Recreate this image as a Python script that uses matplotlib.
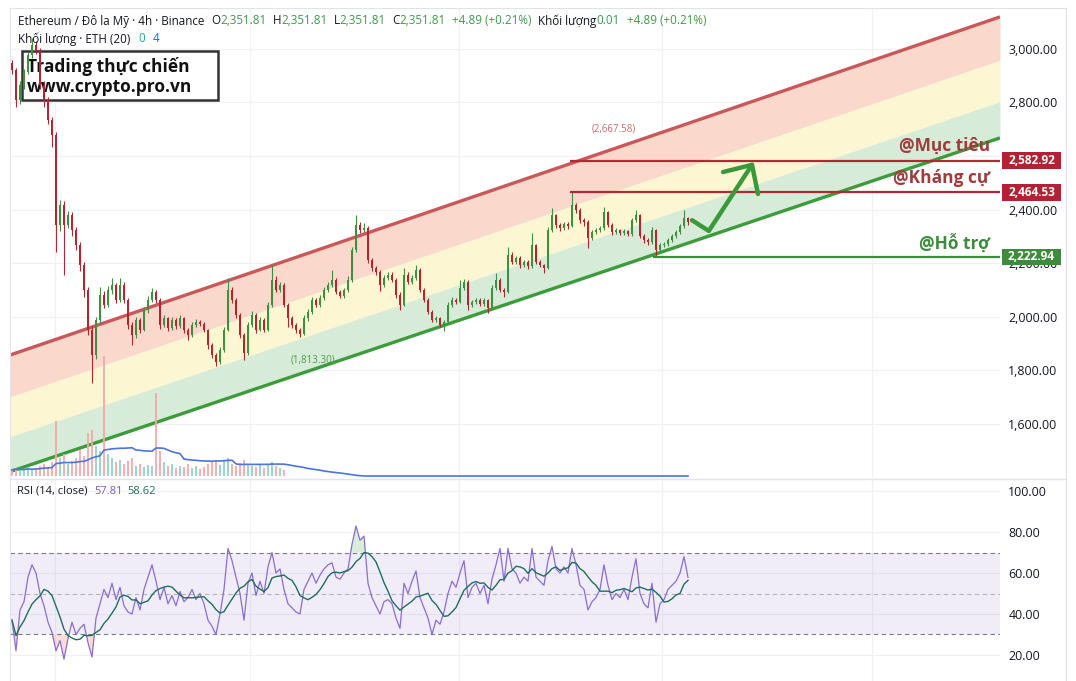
import matplotlib
matplotlib.use('Agg')
import matplotlib.pyplot as plt
import matplotlib.transforms as mtransforms
from matplotlib.patches import Rectangle
import numpy as np
import pandas as pd

plt.rcParams['font.family'] = ['Open Sans', 'DejaVu Sans']

# ---- data (ETH/USD 4h) ----
first_open = 2948
closes = [
    2921, 2809, 2865, 2914, 2978, 3015, 2996, 2865, 2809, 2735,
    2678, 2342, 2417, 2342, 2379, 2323, 2267, 2193, 2099, 1950,
    1857, 1987, 2081, 2043, 2099, 2118, 2062, 2118, 2062, 1968,
    1931, 1987, 1950, 2024, 2062, 2092, 2062, 1968, 1994, 1957,
    1987, 1965, 1994, 1950, 1931, 1968, 1980, 1972, 1950, 1893,
    1857, 1830, 1875, 1950, 2099, 2062, 2006, 1931, 1864, 1968,
    2006, 1950, 1987, 1950, 2043, 2137, 2099, 2118, 2043, 1994,
    1968, 1950, 1935, 1994, 2017, 2062, 2043, 2069, 2099, 2118,
    2137, 2092, 2077, 2099, 2137, 2249, 2342, 2323, 2331, 2211,
    2181, 2166, 2118, 2144, 2155, 2137, 2081, 2043, 2155, 2129,
    2144, 2174, 2099, 2062, 2017, 1987, 1994, 1968, 1980, 2043,
    2062, 2055, 2107, 2129, 2043, 2055, 2062, 2047, 2062, 2032,
    2107, 2137, 2099, 2092, 2230, 2204, 2219, 2193, 2204, 2189,
    2267, 2204, 2193, 2181, 2323, 2379, 2342, 2331, 2346, 2338,
    2417, 2398, 2361, 2353, 2293, 2316, 2323, 2331, 2391, 2342,
    2316, 2323, 2312, 2320, 2308, 2361, 2379, 2301, 2286, 2279,
    2323, 2249, 2267, 2271, 2286, 2301, 2316, 2338, 2368, 2351.81,
]
highs = [
    2960, 2930, 2880, 2925, 2990, 3041, 3030, 3005, 2880, 2820,
    2745, 2690, 2436, 2430, 2395, 2390, 2335, 2280, 2205, 2110,
    1965, 2000, 2110, 2095, 2115, 2144, 2125, 2144, 2130, 2070,
    1980, 2000, 1995, 2035, 2075, 2107, 2100, 2070, 2005, 2000,
    1998, 1995, 2005, 2000, 1958, 1978, 1990, 1988, 1980, 1955,
    1900, 1865, 1885, 1960, 2144, 2110, 2070, 2015, 1940, 1980,
    2020, 2012, 1998, 1995, 2055, 2193, 2150, 2128, 2125, 2050,
    2002, 1975, 1958, 2005, 2028, 2073, 2070, 2080, 2110, 2128,
    2174, 2145, 2100, 2108, 2150, 2260, 2379, 2355, 2350, 2340,
    2220, 2190, 2175, 2155, 2165, 2166, 2145, 2090, 2181, 2165,
    2155, 2193, 2180, 2105, 2070, 2025, 2002, 2000, 1988, 2055,
    2073, 2070, 2137, 2140, 2135, 2062, 2070, 2068, 2070, 2066,
    2118, 2163, 2144, 2105, 2260, 2240, 2228, 2225, 2212, 2210,
    2312, 2272, 2210, 2198, 2335, 2406, 2385, 2350, 2355, 2352,
    2464.53, 2425, 2405, 2368, 2360, 2325, 2332, 2340, 2409, 2396,
    2350, 2330, 2328, 2326, 2325, 2370, 2398, 2384, 2308, 2292,
    2335, 2328, 2275, 2280, 2294, 2310, 2325, 2346, 2398, 2372,
]
lows = [
    2905, 2783, 2795, 2850, 2905, 2965, 2980, 2850, 2783, 2720,
    2634, 2241, 2320, 2155, 2330, 2300, 2250, 2170, 2073, 1930,
    1751, 1840, 1975, 2030, 2035, 2085, 2050, 2055, 2050, 1955,
    1893, 1920, 1940, 1945, 2015, 2055, 2050, 1955, 1960, 1945,
    1950, 1955, 1958, 1940, 1912, 1925, 1960, 1965, 1942, 1880,
    1845, 1813.30, 1822, 1868, 1945, 2050, 1995, 1920, 1837, 1858,
    1960, 1940, 1945, 1942, 1945, 2035, 2090, 2090, 2035, 1961,
    1958, 1940, 1923, 1930, 1985, 2010, 2035, 2035, 2060, 2090,
    2110, 2085, 2068, 2070, 2092, 2130, 2240, 2312, 2315, 2200,
    2170, 2155, 2095, 2110, 2135, 2128, 2070, 2024, 2040, 2120,
    2120, 2138, 2090, 2055, 2008, 1978, 1980, 1960, 1945, 1975,
    2035, 2045, 2050, 2100, 2024, 2036, 2048, 2040, 2040, 2013,
    2028, 2100, 2090, 2073, 2088, 2195, 2196, 2180, 2185, 2178,
    2183, 2196, 2185, 2163, 2176, 2315, 2330, 2320, 2325, 2328,
    2333, 2388, 2350, 2340, 2256, 2285, 2308, 2315, 2325, 2335,
    2305, 2308, 2305, 2306, 2300, 2302, 2352, 2293, 2276, 2268,
    2272, 2222.94, 2240, 2258, 2264, 2280, 2295, 2310, 2330, 2342,
]
volumes = [
    6, 8, 5, 7, 9, 6, 8, 10, 12, 9,
    14, 55, 18, 22, 12, 15, 18, 26, 20, 43,
    46, 30, 25, 120, 22, 18, 14, 16, 12, 15,
    18, 10, 12, 9, 11, 10, 83, 25, 14, 10,
    12, 8, 10, 9, 12, 8, 10, 7, 9, 12,
    14, 16, 11, 15, 18, 12, 10, 13, 16, 12,
    10, 9, 11, 8, 12, 14, 10, 8, 6,
] + [0] * 101
rsi = [
    37, 22, 42, 46, 58, 64, 60, 50, 44, 36,
    31, 22, 27, 18, 28, 36, 30, 33, 35, 26,
    19, 38, 45, 52, 48, 55, 47, 53, 44, 41,
    40, 48, 42, 52, 58, 64, 56, 47, 53, 45,
    49, 44, 51, 46, 48, 52, 47, 50, 45, 37,
    34, 30, 40, 52, 72, 66, 58, 50, 37, 55,
    60, 49, 56, 50, 63, 70, 60, 62, 52, 45,
    43, 41, 40, 52, 56, 60, 55, 59, 62, 64,
    65, 58, 57, 60, 62, 74, 83, 76, 78, 55,
    48, 44, 40, 46, 47, 45, 38, 33, 55, 50,
    56, 61, 48, 43, 38, 30, 37, 35, 41, 50,
    56, 53, 60, 66, 48, 53, 55, 50, 54, 45,
    57, 64, 72, 56, 72, 62, 60, 55, 58, 56,
    72, 58, 56, 54, 66, 73, 62, 60, 63, 60,
    72, 64, 54, 52, 42, 46, 48, 52, 64, 54,
    47, 50, 48, 52, 47, 58, 67, 50, 45, 43,
    55, 36, 45, 47, 52, 54, 56, 60, 68, 57.81,
]

# parallel channel anchors (left edge / right edge of the chart)
chan_x = [-0.5, 247]
chan_low = [1420, 2667.58]
chan_high = [1856, 3120]

target = 2582.92
resist = 2464.53
support = 2222.94

# ---- figure ----
W, H = 1076, 681
fig = plt.figure(figsize=(W / 100, H / 100), dpi=100)
fig.patch.set_facecolor('white')


def fx(px):
    return px / W


def fy(py):
    return 1 - py / H


ax = fig.add_axes([fx(10), fy(478), fx(1000) - fx(10), fy(8) - fy(478)])
ax_rsi = fig.add_axes([fx(10), 0, fx(1000) - fx(10), fy(480)], sharex=ax)

n = len(closes)
x = np.arange(n)
opens = np.array([first_open] + closes[:-1])
closes_a = np.array(closes)
up = closes_a >= opens

grid_c = '#f0f1f4'
grid_x = [10.75, 59.5, 111.75, 162.5, 215]
ax.set_xlim(-0.5, 247)
ax.set_ylim(1396.4, 3153.2)
ax.set_axisbelow(True)
ax.set_xticks(grid_x)
ax.grid(True, color=grid_c, lw=0.9)
ax.tick_params(axis='x', length=0, labelbottom=False)
ax.yaxis.tick_right()
ax.set_yticks(np.arange(1600, 3001, 200))
ax.set_yticklabels([f'{v:,.2f}' for v in np.arange(1600, 3001, 200)])
ax.tick_params(axis='y', length=0, pad=6, labelsize=8.9, labelcolor='#131722')
for s in ax.spines.values():
    s.set_visible(False)

# channel bands
cx = np.array(chan_x)
lo = np.array(chan_low)
hi = np.array(chan_high)
lvl = lambda f: lo + f * (hi - lo)
ax.fill_between(cx, lvl(0.64), hi, color='#fad8cb', lw=0, zorder=1)
ax.fill_between(cx, lvl(0.30), lvl(0.64), color='#fdf6d2', lw=0, zorder=1)
ax.fill_between(cx, lo, lvl(0.30), color='#d6ecd8', lw=0, zorder=1)
ax.plot(cx, hi, color='#c9585b', lw=2.4, zorder=2, solid_capstyle='butt')
ax.plot(cx, lo, color='#3c9c3c', lw=2.4, zorder=2, solid_capstyle='butt')


# watermark box
def ax_frac(px, py):
    return (px - 10) / 990, (478 - py) / 470


bx0, by0 = ax_frac(22, 100)
bx1, by1 = ax_frac(218, 51)
ax.add_patch(Rectangle((bx0, by0), bx1 - bx0, by1 - by0, transform=ax.transAxes,
                       fc='white', ec='#333333', lw=1.8, zorder=2.2))
for py, t in [(66, 'Trading thực chiến'), (87, 'www.crypto.pro.vn')]:
    tx, ty = ax_frac(27, py)
    ax.text(tx, ty, t, transform=ax.transAxes, ha='left', va='center',
            fontsize=12.5, fontweight='bold', color='#111111', zorder=2.4)

# candles
col = np.where(up, '#3f8f3f', '#b2272d')
body_lo = np.minimum(opens, closes_a)
body_h = np.maximum(np.abs(closes_a - opens), 2.0)
ax.vlines(x, lows, highs, colors=col, lw=0.8, zorder=3)
ax.bar(x, body_h, bottom=body_lo, width=0.55, color=col, lw=0, zorder=3.1)

# horizontal levels
i_res = highs.index(resist)
i_sup = lows.index(support)
ax.hlines([target, resist], i_res - 0.5, 247, colors='#b22833', lw=1.6, zorder=4)
ax.hlines(support, i_sup - 0.7, 247, colors='#3d8b3d', lw=1.6, zorder=4)

ax.text(244.5, 2637, '@Mục tiêu', ha='right', va='center', fontsize=12.5,
        fontweight='bold', color='#a03c3c', zorder=5)
ax.text(244.5, 2518, '@Kháng cự', ha='right', va='center', fontsize=12.5,
        fontweight='bold', color='#a03c3c', zorder=5)
ax.text(244.5, 2275, '@Hỗ trợ', ha='right', va='center', fontsize=12.5,
        fontweight='bold', color='#3d8c3d', zorder=5)
ax.text(150.5, 2701, '(2,667.58)', ha='center', va='center', fontsize=7,
        color='#c86a6a', zorder=5)
ax.text(75.3, 1837, '(1,813.30)', ha='center', va='center', fontsize=7,
        color='#4e9a4e', zorder=5)

# projected move arrow
arr_x = [170.0, 174.2, 185.0]
arr_y = [2360, 2320, 2567]
ax.plot(arr_x, arr_y, color='#3a9a3a', lw=3.2, solid_capstyle='round',
        solid_joinstyle='round', zorder=5)
ax.plot([177.75, 185.0, 186.5], [2540, 2567, 2458], color='#3a9a3a', lw=3.2,
        solid_capstyle='round', solid_joinstyle='round', zorder=5)

# price labels on the scale
blend = mtransforms.blended_transform_factory(ax.transAxes, ax.transData)
half = 8.3 * (3153.2 - 1396.4) / 470
for price, fc in [(target, '#b22234'), (resist, '#b22234'), (support, '#3c8c3c')]:
    ax.add_patch(Rectangle((992 / 990, price - half), 59 / 990, 2 * half,
                           transform=blend, fc=fc, ec='none', clip_on=False, zorder=6))
    ax.text(1021.5 / 990, price, f'{price:,.2f}', transform=blend, ha='center',
            va='center', fontsize=8.5, fontweight='bold', color='white',
            clip_on=False, zorder=7)

# volume overlay
vax = fig.add_axes(ax.get_position(), sharex=ax)
vax.patch.set_visible(False)
vax.axis('off')
vax.set_ylim(-2, 468)
vcol = np.where(up, '#8fd3c6', '#f4a9a9')
vol = np.array(volumes, dtype=float)
vax.bar(x, vol, width=0.55, color=vcol, lw=0, alpha=0.9)
vma = pd.Series(vol).rolling(20, min_periods=1).mean()
vax.plot(x, vma, color='#4a74e0', lw=1.2)

# ---- RSI pane ----
rsi_a = np.array(rsi)
rsi_ma = pd.Series(rsi_a).rolling(7, min_periods=1).mean()
ax_rsi.set_ylim(7.3, 105.4)
ax_rsi.set_axisbelow(True)
ax_rsi.set_xticks(grid_x)
ax_rsi.grid(True, color=grid_c, lw=0.9)
ax_rsi.tick_params(axis='x', length=0, labelbottom=False)
ax_rsi.yaxis.tick_right()
ax_rsi.set_yticks([20, 40, 60, 80, 100])
ax_rsi.set_yticklabels([f'{v:.2f}' for v in [20, 40, 60, 80, 100]])
ax_rsi.tick_params(axis='y', length=0, pad=6, labelsize=8.9, labelcolor='#131722')
for s in ax_rsi.spines.values():
    s.set_visible(False)
ax_rsi.axhspan(30, 70, color='#7e57c2', alpha=0.1, lw=0)
ax_rsi.axhline(70, color='#787b86', lw=0.8, ls=(0, (4, 3)))
ax_rsi.axhline(30, color='#787b86', lw=0.8, ls=(0, (4, 3)))
ax_rsi.axhline(50, color='#b2b5be', lw=0.8, ls=(0, (4, 3)))
ax_rsi.fill_between(x, rsi_a, 30, where=rsi_a < 30, interpolate=True,
                    color='#f28b82', alpha=0.3, lw=0)
ax_rsi.fill_between(x, rsi_a, 70, where=rsi_a > 70, interpolate=True,
                    color='#81c784', alpha=0.3, lw=0)
ax_rsi.plot(x, rsi_a, color='#8c6ccf', lw=0.9)
ax_rsi.plot(x, rsi_ma, color='#1f6e5c', lw=1.0)

# ---- header texts (each piece placed right after the previous one) ----
dark = '#131722'
green = '#3d9a4a'


def header(host, px, py, pieces, size=8.4):
    gap0, t, c = pieces[0]
    prev = host.annotate(t, xy=(fx(px), fy(py)), xycoords='figure fraction',
                         ha='left', va='center', fontsize=size, color=c,
                         annotation_clip=False)
    for gap, t, c in pieces[1:]:
        prev = host.annotate(t, xy=(1, 0.5), xycoords=prev, xytext=(gap, 0),
                             textcoords='offset points', ha='left', va='center',
                             fontsize=size, color=c, annotation_clip=False)


header(ax, 18, 21, [(0, 'Ethereum / Đô la Mỹ · 4h · Binance', dark),
                    (5, 'O', dark), (0, '2,351.81', green),
                    (4.5, 'H', dark), (0, '2,351.81', green),
                    (4.5, 'L', dark), (0, '2,351.81', green),
                    (4.5, 'C', dark), (0, '2,351.81', green),
                    (4.5, '+4.89 (+0.21%)', green),
                    (5, 'Khối lượng', dark), (0, '0.01', green),
                    (5, '+4.89 (+0.21%)', green)])
header(ax, 18, 39, [(0, 'Khối lượng · ETH (20)', dark), (6, '0', '#22ab94'),
                    (5, '4', '#2962ff')])
header(ax_rsi, 17, 491, [(0, 'RSI (14, close)', dark), (5, '57.81', '#7e57c2'),
                         (3, '58.62', '#1f6e5c')], size=8)

# pane borders
border = '#e0e3eb'
fig.add_artist(plt.Line2D([fx(10), fx(1066)], [fy(479), fy(479)], color=border, lw=1))
fig.add_artist(plt.Line2D([fx(1066), fx(1066)], [fy(8), 0], color=border, lw=1))
fig.add_artist(plt.Line2D([fx(10), fx(1066)], [fy(8), fy(8)], color=border, lw=0.8))
fig.add_artist(plt.Line2D([fx(10), fx(10)], [fy(8), 0], color=border, lw=0.8))

fig.savefig('out.png', dpi=100, facecolor='white')
